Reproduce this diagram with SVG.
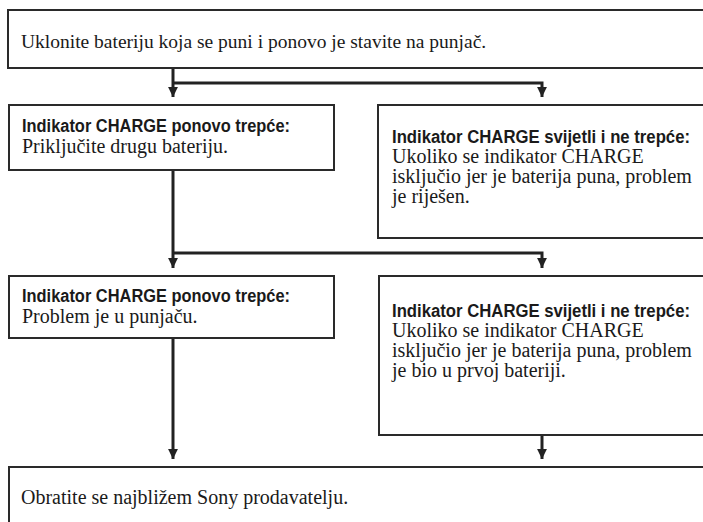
<svg xmlns="http://www.w3.org/2000/svg" width="703" height="522" viewBox="0 0 703 522">
<defs>
<style>
.box{fill:#fff;stroke:#2a2a2a;stroke-width:2}
.t{font-family:"Liberation Serif","Times New Roman",serif;font-size:20px;fill:#1a1a1a}
.b{font-family:"Liberation Sans Narrow","Liberation Sans",Arial,sans-serif;font-weight:bold;font-size:17.5px;fill:#1a1a1a}
.c{fill:none;stroke:#222;stroke-width:3;stroke-linejoin:miter;stroke-linecap:butt}
</style>
<marker id="ah" viewBox="0 0 10 10" refX="10" refY="5" markerWidth="3.3" markerHeight="3.3" orient="auto" markerUnits="strokeWidth">
<path d="M0,0 L10,5 L0,10 Z" fill="#222"/>
</marker>
</defs>
<rect width="703" height="522" fill="#fff"/>
<g id="connectors">
<path class="c" d="M173,68 V97" marker-end="url(#ah)"/>
<path class="c" d="M173,83 H542 V97" marker-end="url(#ah)"/>
<path class="c" d="M173,170 V268" marker-end="url(#ah)"/>
<path class="c" d="M173,253 H542 V268" marker-end="url(#ah)"/>
<path class="c" d="M173,338 V459" marker-end="url(#ah)"/>
<path class="c" d="M542,435 V459" marker-end="url(#ah)"/>
</g>
<g id="n1">
<rect class="box" x="8" y="10" width="710" height="58"/>
<text class="t" x="21" y="48" style="font-size:19.5px">Uklonite bateriju koja se puni i ponovo je stavite na punjač.</text>
</g>
<g id="n2">
<rect class="box" x="9" y="105" width="325" height="65"/>
<text class="b" x="22" y="132" textLength="268" lengthAdjust="spacingAndGlyphs">Indikator CHARGE ponovo trepće:</text>
<text class="t" x="22" y="153">Priključite drugu bateriju.</text>
</g>
<g id="n3">
<rect class="box" x="378" y="105" width="340" height="133"/>
<text class="b" x="392" y="143" textLength="298" lengthAdjust="spacingAndGlyphs">Indikator CHARGE svijetli i ne trepće:</text>
<text class="t" x="392" y="163">Ukoliko se indikator CHARGE</text>
<text class="t" x="392" y="183">isključio jer je baterija puna, problem</text>
<text class="t" x="392" y="203">je riješen.</text>
</g>
<g id="n4">
<rect class="box" x="9" y="276" width="325" height="62"/>
<text class="b" x="22" y="302" textLength="268" lengthAdjust="spacingAndGlyphs">Indikator CHARGE ponovo trepće:</text>
<text class="t" x="22" y="323">Problem je u punjaču.</text>
</g>
<g id="n5">
<rect class="box" x="379" y="276" width="340" height="159"/>
<text class="b" x="392" y="317" textLength="298" lengthAdjust="spacingAndGlyphs">Indikator CHARGE svijetli i ne trepće:</text>
<text class="t" x="392" y="337">Ukoliko se indikator CHARGE</text>
<text class="t" x="392" y="357">isključio jer je baterija puna, problem</text>
<text class="t" x="392" y="377">je bio u prvoj bateriji.</text>
</g>
<g id="n6">
<rect class="box" x="9" y="467" width="710" height="70"/>
<text class="t" x="21" y="504">Obratite se najbližem Sony prodavatelju.</text>
</g>
</svg>
